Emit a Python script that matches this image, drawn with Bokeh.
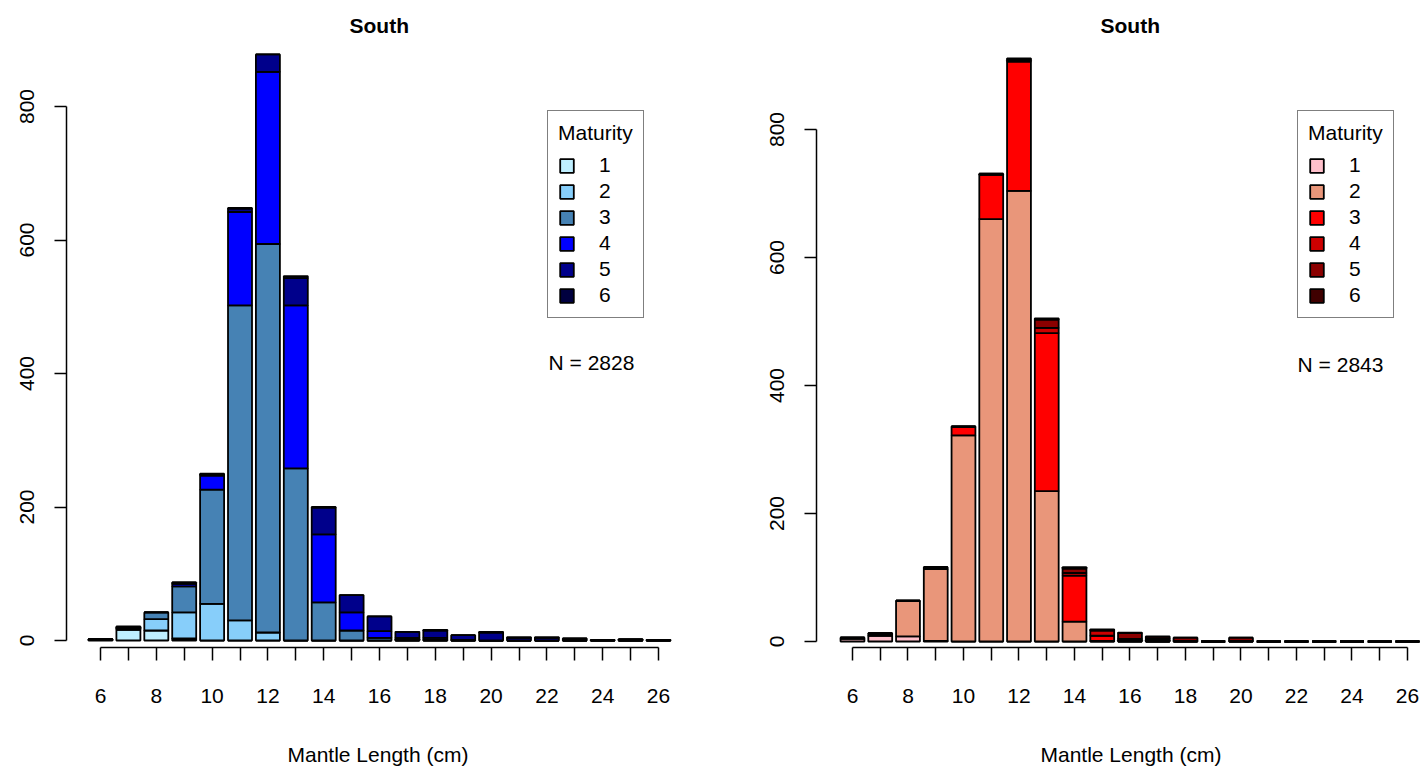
from bokeh.plotting import figure
from bokeh.models import Range1d, FixedTicker, Legend, LegendItem, Label, ColumnDataSource, Title
from bokeh.layouts import row
from bokeh.embed import file_html
from bokeh.resources import INLINE

# ---------------- data ----------------
lengths = [6, 7, 8, 9, 10, 11, 12, 13, 14, 15, 16, 17, 18, 19, 20, 21, 22, 23, 24, 25, 26]
x_tick_labels = {6: "6", 8: "8", 10: "10", 12: "12", 14: "14", 16: "16",
                 18: "18", 20: "20", 22: "22", 24: "24", 26: "26"}
y_ticks = [0, 200, 400, 600, 800]
stages = ["1", "2", "3", "4", "5", "6"]

# left panel (blue) maturity counts per length class
blue_1 = [2, 16, 15, 3, 0, 0, 0, 0, 0, 0, 0, 0, 0, 0, 0, 0, 0, 0, 0, 0, 0]
blue_2 = [0, 2, 17, 39, 55, 30, 12, 0, 0, 0, 0, 0, 0, 0, 0, 0, 0, 0, 0, 0, 0]
blue_3 = [0, 2, 10, 39, 171, 472, 582, 258, 57, 15, 4, 2, 1, 0, 0, 0, 0, 0, 0, 0, 0]
blue_4 = [0, 0, 0, 4, 21, 140, 258, 244, 102, 27, 10, 2, 3, 1, 0, 0, 0, 0, 0, 0, 0]
blue_5 = [0, 0, 0, 2, 2, 5, 26, 41, 40, 26, 22, 9, 11, 7, 12, 4, 4, 3, 1, 2, 1]
blue_6 = [0, 1, 0, 0, 1, 1, 0, 3, 1, 0, 0, 0, 1, 0, 1, 1, 1, 0, 0, 0, 0]

# right panel (red) maturity counts per length class
red_1 = [4, 9, 8, 1, 0, 0, 0, 0, 0, 0, 0, 0, 0, 0, 0, 0, 0, 0, 0, 0, 0]
red_2 = [2, 3, 55, 112, 322, 660, 704, 235, 31, 1, 0, 0, 0, 0, 0, 0, 0, 0, 0, 0, 0]
red_3 = [0, 1, 1, 3, 13, 69, 202, 247, 72, 8, 2, 0, 0, 0, 0, 0, 0, 0, 0, 0, 0]
red_4 = [0, 0, 0, 0, 1, 1, 2, 8, 4, 8, 2, 2, 1, 0, 1, 0, 0, 0, 0, 0, 0]
red_5 = [0, 0, 0, 0, 0, 1, 2, 13, 7, 1, 9, 3, 5, 0, 5, 0, 0, 0, 0, 0, 0]
red_6 = [0, 0, 0, 0, 0, 0, 1, 2, 2, 1, 1, 3, 0, 0, 0, 0, 0, 0, 0, 0, 0]

blue_colors = ["#BFEFFF", "#87CEFA", "#4682B4", "#0000FF", "#00008B", "#00003F"]
red_colors = ["#FFC0CB", "#E9967A", "#FF0000", "#CD0000", "#8B0000", "#3F0000"]

titles = ["South", "South"]
n_texts = ["N = 2828", "N = 2843"]
x_label = "Mantle Length (cm)"

FONT = "Liberation Sans"
FS = "21px"


def make_panel(counts, colors, n_text, title, width, border_left, border_right,
               x_rng, y_rng, n_pos, title_offset, xlab_offset):
    data = {"x": lengths}
    for s, c in zip(stages, counts):
        data[s] = c
    src = ColumnDataSource(data)
    p = figure(width=width, height=771, x_range=Range1d(*x_rng), y_range=Range1d(*y_rng),
               output_backend="svg", toolbar_location=None, title=None,
               min_border_left=border_left, min_border_right=border_right,
               min_border_top=40, min_border_bottom=124)
    p.outline_line_color = None
    p.xgrid.visible = False
    p.ygrid.visible = False
    p.background_fill_color = "white"
    p.border_fill_color = "white"

    rs = p.vbar_stack(stages, x="x", width=0.86, source=src, fill_color=colors,
                      line_color="black", line_width=1.8)

    # axes
    xa = p.xaxis[0]
    xa.ticker = FixedTicker(ticks=lengths)
    xa.major_label_overrides = {k: x_tick_labels.get(k, "") for k in lengths}
    xa.bounds = (6, 26)
    xa.major_tick_out = 13
    xa.major_tick_in = 0
    xa.minor_tick_out = 0
    xa.minor_tick_in = 0
    xa.major_label_standoff = 28
    xa.axis_line_width = 1.5
    xa.major_tick_line_width = 1.5
    xa.axis_line_color = "black"
    xa.major_tick_line_color = "black"
    xa.major_label_text_font = FONT
    xa.major_label_text_font_size = FS
    xa.major_label_text_color = "black"
    xa.axis_label = " "
    xa.axis_label_standoff = 11
    xa.axis_label_text_font = FONT
    xa.axis_label_text_font_size = FS

    ya = p.yaxis[0]
    ya.ticker = FixedTicker(ticks=y_ticks)
    ya.bounds = (0, 800)
    ya.major_tick_out = 12
    ya.major_tick_in = 0
    ya.minor_tick_out = 0
    ya.minor_tick_in = 0
    ya.major_label_standoff = 20
    ya.major_label_orientation = "vertical"
    ya.axis_line_width = 1.5
    ya.major_tick_line_width = 1.5
    ya.axis_line_color = "black"
    ya.major_tick_line_color = "black"
    ya.major_label_text_font = FONT
    ya.major_label_text_font_size = FS
    ya.major_label_text_color = "black"

    legend = Legend(items=[LegendItem(label=s, renderers=[r]) for s, r in zip(stages, rs)],
                    location=(481, 329), title="Maturity",
                    title_text_font=FONT, title_text_font_size=FS, title_text_font_style="normal",
                    title_text_color="black", title_standoff=8,
                    label_text_font=FONT, label_text_font_size=FS, label_text_color="black",
                    glyph_width=17, glyph_height=17, label_standoff=24,
                    spacing=2, padding=10, margin=0,
                    border_line_color="black", border_line_width=1.5,
                    background_fill_color="white", background_fill_alpha=1.0)
    p.add_layout(legend)

    p.add_layout(Label(x=n_pos[0], y=n_pos[1], text=n_text, text_font=FONT, text_font_size=FS,
                       text_align="left", text_baseline="middle", text_color="black"))

    p.add_layout(Title(text=title, align="left", offset=title_offset, vertical_align="bottom",
                       standoff=8, text_font=FONT, text_font_size=FS, text_font_style="bold",
                       text_color="black"), "above")
    p.add_layout(Title(text=x_label, align="left", offset=xlab_offset, vertical_align="top",
                       standoff=0, text_font=FONT, text_font_size=FS, text_font_style="normal",
                       text_color="black"), "below")
    return p


left = make_panel([blue_1, blue_2, blue_3, blue_4, blue_5, blue_6], blue_colors,
                  n_texts[0], titles[0], 712, 66, 22,
                  (4.781, 27.147), (-10.49, 898.9), (22.06, 416), 283, 221)
right = make_panel([red_1, red_2, red_3, red_4, red_5, red_6], red_colors,
                   n_texts[1], titles[1], 711, 104, 0,
                   (4.703, 26.577), (-9.375, 939.1), (22.04, 433), 284, 224)

layout = row(left, right)
open("out.html", "w").write(file_html(layout, INLINE))
